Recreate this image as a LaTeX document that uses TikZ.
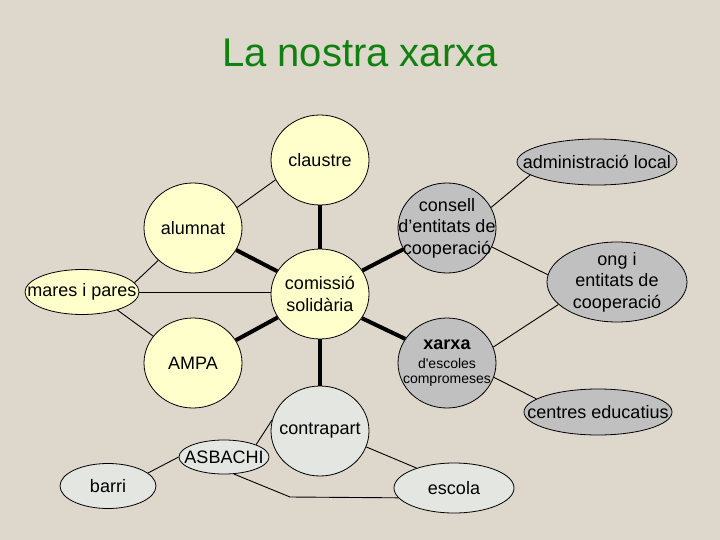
\documentclass[tikz,border=0pt]{standalone}
\usepackage{fontspec}
\setmainfont{Liberation Sans}[Ligatures=TeXOff]
\usetikzlibrary{shapes.geometric,backgrounds}
\definecolor{bg}{RGB}{222,215,204}
\definecolor{yel}{RGB}{255,255,204}
\definecolor{gry}{RGB}{192,192,192}
\definecolor{lgry}{RGB}{228,230,226}
\definecolor{ttl}{RGB}{16,128,16}
\begin{document}
\begin{tikzpicture}[x=1pt,y=-1pt,
  nd/.style={ellipse, draw=black, line width=0.8pt, inner sep=0pt},
  circ/.style={nd, minimum width=98pt, minimum height=90pt},
  txt/.style={font=\fontsize{18}{21.5}\selectfont, align=center, inner sep=0pt},
  t/.style={label={[txt]center:{#1}}},
  lnk/.style={line width=0.9pt, black},
  strong/.style={line width=4pt, black}]
\useasboundingbox (0,0) rectangle (720,540);
\node[font=\fontsize{40}{48}\selectfont, text=ttl, anchor=base] (title) at (360,67) {La nostra xarxa};
% yellow circles
\node[circ, fill=yel, t={claustre}] (cla) at (320,160) {};
\node[circ, fill=yel, t={alumnat}] (alu) at (193,228) {};
\node[circ, fill=yel, t={comissió\\solidària}] (com) at (320,294) {};
\node[circ, fill=yel, t={AMPA}] (amp) at (193,363) {};
\node[nd, fill=yel, minimum width=114pt, minimum height=45pt, t={mares i pares}] (mar) at (82,292) {};
% grey circles
\node[circ, fill=gry, t={consell\\d’entitats de\\cooperació}] (cns) at (447,228) {};
\node[circ, fill=gry, label={[align=center, inner sep=0pt, font=\fontsize{14}{15}\selectfont]center:{{\fontsize{18}{21}\selectfont\bfseries xarxa}\\[4pt]d'escoles\\compromeses}}] (xar) at (447,363) {};
\node[nd, fill=gry, minimum width=160pt, minimum height=46pt, t={administració local}] (adm) at (597,162) {};
\node[nd, fill=gry, minimum width=140pt, minimum height=80pt, t={ong i\\entitats de\\cooperació}] (ong) at (617,282) {};
\node[nd, fill=gry, minimum width=148pt, minimum height=46pt, t={centres educatius}] (cen) at (598,412) {};
% light grey
\node[circ, fill=lgry, t={contrapart}] (con) at (320,431) {};
\node[nd, fill=lgry, minimum width=90pt, minimum height=34pt, t={ASBACHI}] (asb) at (224,457) {};
\node[nd, fill=lgry, minimum width=96pt, minimum height=45pt, t={barri}] (bar) at (108,486) {};
\node[nd, fill=lgry, minimum width=120pt, minimum height=50pt, t={escola}] (esc) at (454,488) {};
\coordinate (bend) at (290,497);
\begin{scope}[on background layer]
  \fill[bg] (0,0) rectangle (720,540);
  \draw[lnk] (cla.204) -- (alu.25);
  \draw[strong] (alu.-27) -- (com.152);
  \draw[strong] (cla.south) -- (com.north);
  \draw[lnk] (mar.10) -- (alu.223);
  \draw[lnk] (mar.east) -- (mar.east -| com.west);
  \draw[lnk] (mar.-27) -- (amp.146);
  \draw[strong] (amp.28) -- (com.209);
  \draw[strong] (com.south) -- (con.north);
  \draw[strong] (com.29) -- (cns.206);
  \draw[strong] (com.-30) -- (xar.150);
  \draw[lnk] (cns.25) -- (adm.191);
  \draw[lnk] (cns.-23) -- (ong.174);
  \draw[lnk] (ong.201) -- (xar.19);
  \draw[lnk] (xar.-17) -- (cen.168);
  \draw[lnk] (con.167) -- (asb.21);
  \draw[lnk] (con.-19) -- (esc.152);
  \draw[lnk] (asb.west) -- (bar.18);
  \draw[lnk] (asb.-60) -- (bend) -- (esc.190);
\end{scope}
\end{tikzpicture}
\end{document}
